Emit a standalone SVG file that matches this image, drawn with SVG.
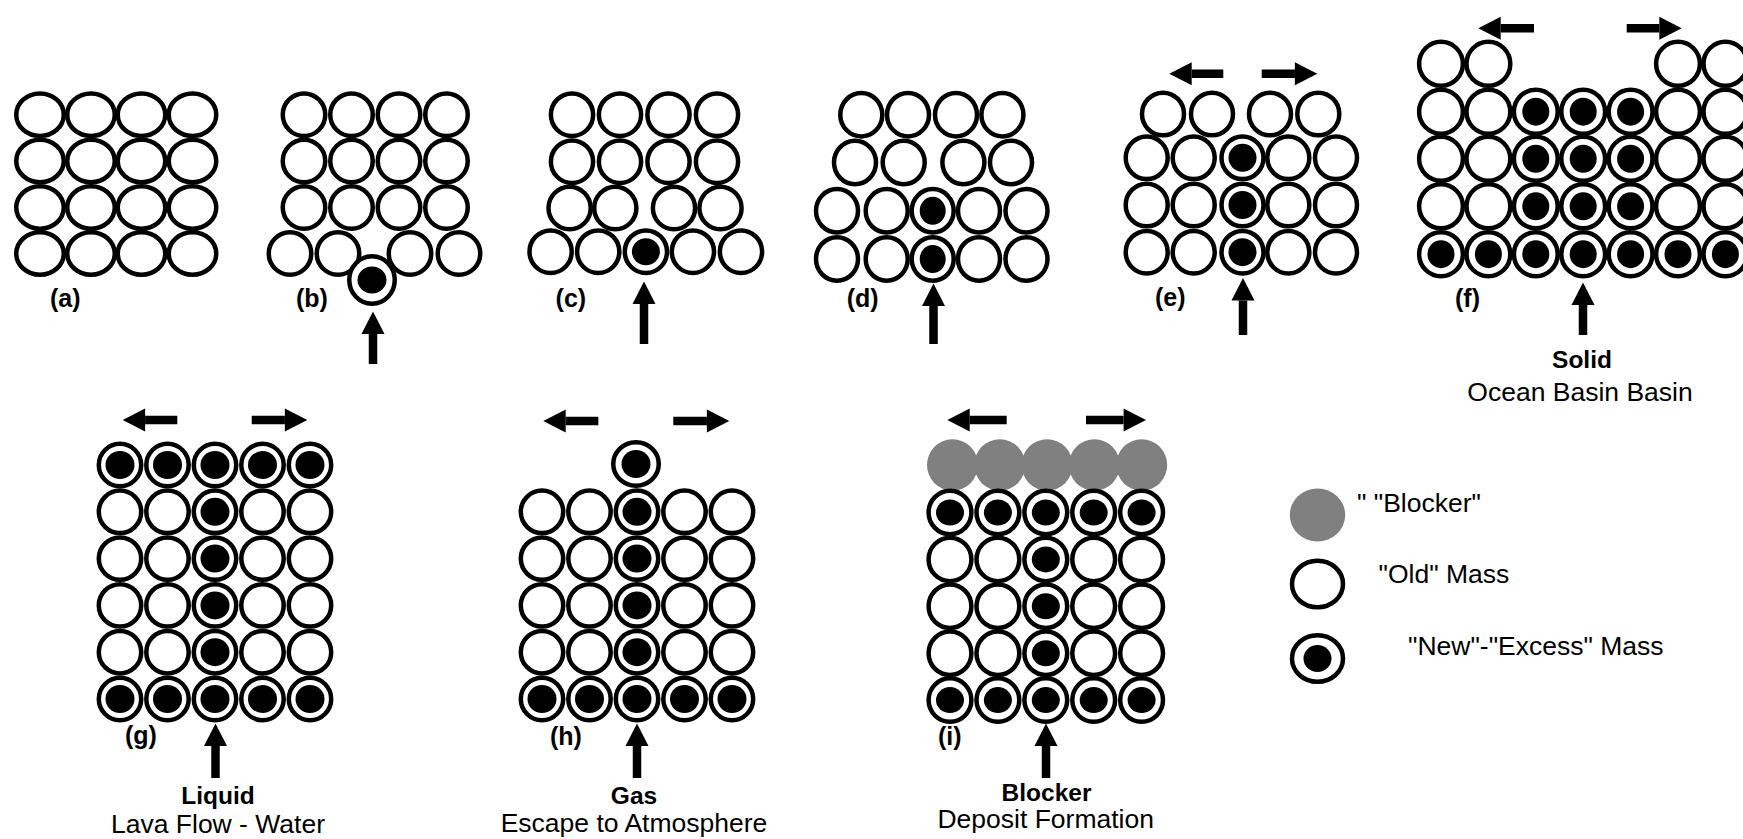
<svg xmlns="http://www.w3.org/2000/svg" width="1743" height="839" viewBox="0 0 1743 839">
<style>
.o{fill:#fff;stroke:#000;stroke-width:4.5}
.d{fill:#000}
.g{fill:#808080}
.lb{font-family:"Liberation Sans",Arial,sans-serif;font-size:25px;font-weight:bold;fill:#000}
.t{font-family:"Liberation Sans",Arial,sans-serif;font-size:26.5px;text-anchor:middle;fill:#000}
.b{font-family:"Liberation Sans",Arial,sans-serif;font-size:24.5px;font-weight:bold;text-anchor:middle;fill:#000}
.lg{font-family:"Liberation Sans",Arial,sans-serif;font-size:26.5px;fill:#000}
.ar{stroke:#000;stroke-width:8.5;fill:none;marker-end:url(#ah)}
</style>
<defs>
<marker id="ah" markerUnits="userSpaceOnUse" markerWidth="23" markerHeight="24" refX="0" refY="11.5" orient="auto" overflow="visible">
<path d="M0,0 L22.4,11.5 L0,23 Z" fill="#000"/>
</marker>
</defs>
<rect width="1743" height="839" fill="#fff"/>

<g id="panel-a">
<ellipse class="o" cx="40" cy="114.7" rx="23.75" ry="21.25"/><ellipse class="o" cx="91" cy="114.7" rx="23.75" ry="21.25"/><ellipse class="o" cx="141.5" cy="114.7" rx="23.75" ry="21.25"/><ellipse class="o" cx="192.5" cy="114.7" rx="23.75" ry="21.25"/>
<ellipse class="o" cx="40" cy="161" rx="23.75" ry="21.25"/><ellipse class="o" cx="91" cy="161" rx="23.75" ry="21.25"/><ellipse class="o" cx="141.5" cy="161" rx="23.75" ry="21.25"/><ellipse class="o" cx="192.5" cy="161" rx="23.75" ry="21.25"/>
<ellipse class="o" cx="40" cy="207.5" rx="23.75" ry="21.25"/><ellipse class="o" cx="91" cy="207.5" rx="23.75" ry="21.25"/><ellipse class="o" cx="141.5" cy="207.5" rx="23.75" ry="21.25"/><ellipse class="o" cx="192.5" cy="207.5" rx="23.75" ry="21.25"/>
<ellipse class="o" cx="40" cy="253.5" rx="23.75" ry="21.25"/><ellipse class="o" cx="91" cy="253.5" rx="23.75" ry="21.25"/><ellipse class="o" cx="141.5" cy="253.5" rx="23.75" ry="21.25"/><ellipse class="o" cx="192.5" cy="253.5" rx="23.75" ry="21.25"/>
<text class="lb" x="50" y="307">(a)</text>
</g>

<g id="panel-b">
<ellipse class="o" cx="304" cy="114.7" rx="21.25" ry="21.25"/><ellipse class="o" cx="351.5" cy="114.7" rx="21.25" ry="21.25"/><ellipse class="o" cx="399" cy="114.7" rx="21.25" ry="21.25"/><ellipse class="o" cx="446.5" cy="114.7" rx="21.25" ry="21.25"/>
<ellipse class="o" cx="304" cy="161" rx="21.25" ry="21.25"/><ellipse class="o" cx="351.5" cy="161" rx="21.25" ry="21.25"/><ellipse class="o" cx="399" cy="161" rx="21.25" ry="21.25"/><ellipse class="o" cx="446.5" cy="161" rx="21.25" ry="21.25"/>
<ellipse class="o" cx="304" cy="207.5" rx="21.25" ry="21.25"/><ellipse class="o" cx="351.5" cy="207.5" rx="21.25" ry="21.25"/><ellipse class="o" cx="399" cy="207.5" rx="21.25" ry="21.25"/><ellipse class="o" cx="446.5" cy="207.5" rx="21.25" ry="21.25"/>
<ellipse class="o" cx="290" cy="253.5" rx="21.25" ry="21.25"/><ellipse class="o" cx="338" cy="253.5" rx="21.25" ry="21.25"/><ellipse class="o" cx="410" cy="253.5" rx="21.25" ry="21.25"/><ellipse class="o" cx="459" cy="253.5" rx="21.25" ry="21.25"/>
<ellipse class="o" cx="372" cy="280" rx="22.75" ry="23.75"/><ellipse class="d" cx="372" cy="280" rx="14.5" ry="13.5"/>
<text class="lb" x="296" y="307">(b)</text>
</g>

<g id="panel-c">
<ellipse class="o" cx="572" cy="114.7" rx="21.1" ry="21.25"/><ellipse class="o" cx="620" cy="114.7" rx="21.1" ry="21.25"/><ellipse class="o" cx="668.5" cy="114.7" rx="21.1" ry="21.25"/><ellipse class="o" cx="717" cy="114.7" rx="21.1" ry="21.25"/>
<ellipse class="o" cx="572" cy="161.7" rx="21.1" ry="21.25"/><ellipse class="o" cx="620" cy="161.7" rx="21.1" ry="21.25"/><ellipse class="o" cx="668.5" cy="161.7" rx="21.1" ry="21.25"/><ellipse class="o" cx="717" cy="161.7" rx="21.1" ry="21.25"/>
<ellipse class="o" cx="569.6" cy="208" rx="21.1" ry="21.25"/><ellipse class="o" cx="615.3" cy="208" rx="21.1" ry="21.25"/><ellipse class="o" cx="674" cy="208" rx="21.1" ry="21.25"/><ellipse class="o" cx="720.5" cy="208" rx="21.1" ry="21.25"/>
<ellipse class="o" cx="550.6" cy="251.7" rx="21.1" ry="21.25"/><ellipse class="o" cx="598.2" cy="251.7" rx="21.1" ry="21.25"/><ellipse class="o" cx="645.9" cy="251.7" rx="21.1" ry="21.25"/><ellipse class="d" cx="645.9" cy="251.7" rx="14" ry="13.5"/><ellipse class="o" cx="692.9" cy="251.7" rx="21.1" ry="21.25"/><ellipse class="o" cx="741" cy="251.7" rx="21.1" ry="21.25"/>
<text class="lb" x="555.6" y="307">(c)</text>
</g>

<g id="panel-d">
<ellipse class="o" cx="861.3" cy="114.7" rx="21" ry="21.7"/><ellipse class="o" cx="908" cy="114.7" rx="21" ry="21.7"/><ellipse class="o" cx="956" cy="114.7" rx="21" ry="21.7"/><ellipse class="o" cx="1002.4" cy="114.7" rx="21" ry="21.7"/>
<ellipse class="o" cx="855" cy="162.5" rx="21" ry="21.7"/><ellipse class="o" cx="903.7" cy="162.5" rx="21" ry="21.7"/><ellipse class="o" cx="963.4" cy="162.5" rx="21" ry="21.7"/><ellipse class="o" cx="1011" cy="162.5" rx="21" ry="21.7"/>
<ellipse class="o" cx="837" cy="210.8" rx="21" ry="21.7"/><ellipse class="o" cx="886.7" cy="210.8" rx="21" ry="21.7"/><ellipse class="o" cx="932.7" cy="210.8" rx="21" ry="21.7"/><ellipse class="d" cx="932.7" cy="210.8" rx="13" ry="14"/><ellipse class="o" cx="979" cy="210.8" rx="21" ry="21.7"/><ellipse class="o" cx="1026.5" cy="210.8" rx="21" ry="21.7"/>
<ellipse class="o" cx="837" cy="259" rx="21" ry="21.7"/><ellipse class="o" cx="886.7" cy="259" rx="21" ry="21.7"/><ellipse class="o" cx="932.7" cy="259" rx="21" ry="21.7"/><ellipse class="d" cx="932.7" cy="259" rx="13" ry="14"/><ellipse class="o" cx="979" cy="259" rx="21" ry="21.7"/><ellipse class="o" cx="1026.5" cy="259" rx="21" ry="21.7"/>
<text class="lb" x="846.7" y="307">(d)</text>
</g>

<g id="panel-e">
<ellipse class="o" cx="1163" cy="114" rx="21" ry="21.3"/><ellipse class="o" cx="1212" cy="114" rx="21" ry="21.3"/><ellipse class="o" cx="1270" cy="114" rx="21" ry="21.3"/><ellipse class="o" cx="1318.3" cy="114" rx="21" ry="21.3"/>
<ellipse class="o" cx="1146.7" cy="157.8" rx="21" ry="21.3"/><ellipse class="o" cx="1193.7" cy="157.8" rx="21" ry="21.3"/><ellipse class="o" cx="1242.5" cy="157.8" rx="21" ry="21.3"/><ellipse class="d" cx="1242.5" cy="157.8" rx="14" ry="14"/><ellipse class="o" cx="1288.3" cy="157.8" rx="21" ry="21.3"/><ellipse class="o" cx="1336" cy="157.8" rx="21" ry="21.3"/>
<ellipse class="o" cx="1146.7" cy="205" rx="21" ry="21.3"/><ellipse class="o" cx="1193.7" cy="205" rx="21" ry="21.3"/><ellipse class="o" cx="1242.5" cy="205" rx="21" ry="21.3"/><ellipse class="d" cx="1242.5" cy="205" rx="14" ry="14"/><ellipse class="o" cx="1288.3" cy="205" rx="21" ry="21.3"/><ellipse class="o" cx="1336" cy="205" rx="21" ry="21.3"/>
<ellipse class="o" cx="1146.7" cy="252.2" rx="21" ry="21.3"/><ellipse class="o" cx="1193.7" cy="252.2" rx="21" ry="21.3"/><ellipse class="o" cx="1242.5" cy="252.2" rx="21" ry="21.3"/><ellipse class="d" cx="1242.5" cy="252.2" rx="14" ry="14"/><ellipse class="o" cx="1288.3" cy="252.2" rx="21" ry="21.3"/><ellipse class="o" cx="1336" cy="252.2" rx="21" ry="21.3"/>
<text class="lb" x="1155" y="306">(e)</text>
</g>

<g id="panel-f">
<ellipse class="o" cx="1441" cy="63.8" rx="21.9" ry="22"/><ellipse class="o" cx="1488.4" cy="63.8" rx="21.9" ry="22"/><ellipse class="o" cx="1678" cy="63.8" rx="21.9" ry="22"/><ellipse class="o" cx="1725.4" cy="63.8" rx="21.9" ry="22"/>
<ellipse class="o" cx="1441" cy="111.7" rx="21.9" ry="22"/><ellipse class="o" cx="1488.4" cy="111.7" rx="21.9" ry="22"/><ellipse class="o" cx="1535.8" cy="111.7" rx="21.9" ry="22"/><ellipse class="d" cx="1535.8" cy="111.7" rx="13.5" ry="14"/><ellipse class="o" cx="1583.2" cy="111.7" rx="21.9" ry="22"/><ellipse class="d" cx="1583.2" cy="111.7" rx="13.5" ry="14"/><ellipse class="o" cx="1630.6" cy="111.7" rx="21.9" ry="22"/><ellipse class="d" cx="1630.6" cy="111.7" rx="13.5" ry="14"/><ellipse class="o" cx="1678" cy="111.7" rx="21.9" ry="22"/><ellipse class="o" cx="1725.4" cy="111.7" rx="21.9" ry="22"/>
<ellipse class="o" cx="1441" cy="158.8" rx="21.9" ry="22"/><ellipse class="o" cx="1488.4" cy="158.8" rx="21.9" ry="22"/><ellipse class="o" cx="1535.8" cy="158.8" rx="21.9" ry="22"/><ellipse class="d" cx="1535.8" cy="158.8" rx="13.5" ry="14"/><ellipse class="o" cx="1583.2" cy="158.8" rx="21.9" ry="22"/><ellipse class="d" cx="1583.2" cy="158.8" rx="13.5" ry="14"/><ellipse class="o" cx="1630.6" cy="158.8" rx="21.9" ry="22"/><ellipse class="d" cx="1630.6" cy="158.8" rx="13.5" ry="14"/><ellipse class="o" cx="1678" cy="158.8" rx="21.9" ry="22"/><ellipse class="o" cx="1725.4" cy="158.8" rx="21.9" ry="22"/>
<ellipse class="o" cx="1441" cy="206.3" rx="21.9" ry="22"/><ellipse class="o" cx="1488.4" cy="206.3" rx="21.9" ry="22"/><ellipse class="o" cx="1535.8" cy="206.3" rx="21.9" ry="22"/><ellipse class="d" cx="1535.8" cy="206.3" rx="13.5" ry="14"/><ellipse class="o" cx="1583.2" cy="206.3" rx="21.9" ry="22"/><ellipse class="d" cx="1583.2" cy="206.3" rx="13.5" ry="14"/><ellipse class="o" cx="1630.6" cy="206.3" rx="21.9" ry="22"/><ellipse class="d" cx="1630.6" cy="206.3" rx="13.5" ry="14"/><ellipse class="o" cx="1678" cy="206.3" rx="21.9" ry="22"/><ellipse class="o" cx="1725.4" cy="206.3" rx="21.9" ry="22"/>
<ellipse class="o" cx="1441" cy="254.2" rx="21.9" ry="22"/><ellipse class="d" cx="1441" cy="254.2" rx="13.5" ry="14"/><ellipse class="o" cx="1488.4" cy="254.2" rx="21.9" ry="22"/><ellipse class="d" cx="1488.4" cy="254.2" rx="13.5" ry="14"/><ellipse class="o" cx="1535.8" cy="254.2" rx="21.9" ry="22"/><ellipse class="d" cx="1535.8" cy="254.2" rx="13.5" ry="14"/><ellipse class="o" cx="1583.2" cy="254.2" rx="21.9" ry="22"/><ellipse class="d" cx="1583.2" cy="254.2" rx="13.5" ry="14"/><ellipse class="o" cx="1630.6" cy="254.2" rx="21.9" ry="22"/><ellipse class="d" cx="1630.6" cy="254.2" rx="13.5" ry="14"/><ellipse class="o" cx="1678" cy="254.2" rx="21.9" ry="22"/><ellipse class="d" cx="1678" cy="254.2" rx="13.5" ry="14"/><ellipse class="o" cx="1725.4" cy="254.2" rx="21.9" ry="22"/><ellipse class="d" cx="1725.4" cy="254.2" rx="13.5" ry="14"/>
<text class="lb" x="1455" y="307">(f)</text>
<text class="b" x="1582" y="368">Solid</text>
<text class="t" x="1580" y="401">Ocean Basin Basin</text>
</g>

<g id="panel-g">
<ellipse class="o" cx="120" cy="465" rx="21.2" ry="21.2"/><ellipse class="d" cx="120" cy="465" rx="14.5" ry="14"/><ellipse class="o" cx="167.5" cy="465" rx="21.2" ry="21.2"/><ellipse class="d" cx="167.5" cy="465" rx="14.5" ry="14"/><ellipse class="o" cx="215" cy="465" rx="21.2" ry="21.2"/><ellipse class="d" cx="215" cy="465" rx="14.5" ry="14"/><ellipse class="o" cx="262.5" cy="465" rx="21.2" ry="21.2"/><ellipse class="d" cx="262.5" cy="465" rx="14.5" ry="14"/><ellipse class="o" cx="310" cy="465" rx="21.2" ry="21.2"/><ellipse class="d" cx="310" cy="465" rx="14.5" ry="14"/>
<ellipse class="o" cx="120" cy="511.8" rx="21.2" ry="21.2"/><ellipse class="o" cx="167.5" cy="511.8" rx="21.2" ry="21.2"/><ellipse class="o" cx="215" cy="511.8" rx="21.2" ry="21.2"/><ellipse class="d" cx="215" cy="511.8" rx="14.5" ry="14"/><ellipse class="o" cx="262.5" cy="511.8" rx="21.2" ry="21.2"/><ellipse class="o" cx="310" cy="511.8" rx="21.2" ry="21.2"/>
<ellipse class="o" cx="120" cy="558.6" rx="21.2" ry="21.2"/><ellipse class="o" cx="167.5" cy="558.6" rx="21.2" ry="21.2"/><ellipse class="o" cx="215" cy="558.6" rx="21.2" ry="21.2"/><ellipse class="d" cx="215" cy="558.6" rx="14.5" ry="14"/><ellipse class="o" cx="262.5" cy="558.6" rx="21.2" ry="21.2"/><ellipse class="o" cx="310" cy="558.6" rx="21.2" ry="21.2"/>
<ellipse class="o" cx="120" cy="605.4" rx="21.2" ry="21.2"/><ellipse class="o" cx="167.5" cy="605.4" rx="21.2" ry="21.2"/><ellipse class="o" cx="215" cy="605.4" rx="21.2" ry="21.2"/><ellipse class="d" cx="215" cy="605.4" rx="14.5" ry="14"/><ellipse class="o" cx="262.5" cy="605.4" rx="21.2" ry="21.2"/><ellipse class="o" cx="310" cy="605.4" rx="21.2" ry="21.2"/>
<ellipse class="o" cx="120" cy="652.2" rx="21.2" ry="21.2"/><ellipse class="o" cx="167.5" cy="652.2" rx="21.2" ry="21.2"/><ellipse class="o" cx="215" cy="652.2" rx="21.2" ry="21.2"/><ellipse class="d" cx="215" cy="652.2" rx="14.5" ry="14"/><ellipse class="o" cx="262.5" cy="652.2" rx="21.2" ry="21.2"/><ellipse class="o" cx="310" cy="652.2" rx="21.2" ry="21.2"/>
<ellipse class="o" cx="120" cy="699" rx="21.2" ry="21.2"/><ellipse class="d" cx="120" cy="699" rx="14.5" ry="14"/><ellipse class="o" cx="167.5" cy="699" rx="21.2" ry="21.2"/><ellipse class="d" cx="167.5" cy="699" rx="14.5" ry="14"/><ellipse class="o" cx="215" cy="699" rx="21.2" ry="21.2"/><ellipse class="d" cx="215" cy="699" rx="14.5" ry="14"/><ellipse class="o" cx="262.5" cy="699" rx="21.2" ry="21.2"/><ellipse class="d" cx="262.5" cy="699" rx="14.5" ry="14"/><ellipse class="o" cx="310" cy="699" rx="21.2" ry="21.2"/><ellipse class="d" cx="310" cy="699" rx="14.5" ry="14"/>
<text class="lb" x="125" y="744">(g)</text>
<text class="b" x="218" y="804">Liquid</text>
<text class="t" x="218" y="833">Lava Flow - Water</text>
</g>

<g id="panel-h">
<ellipse class="o" cx="636" cy="464" rx="22.75" ry="21.75"/><ellipse class="d" cx="636" cy="464" rx="14.5" ry="14"/>
<ellipse class="o" cx="542" cy="511.8" rx="21.2" ry="21.2"/><ellipse class="o" cx="589.5" cy="511.8" rx="21.2" ry="21.2"/><ellipse class="o" cx="637" cy="511.8" rx="21.2" ry="21.2"/><ellipse class="d" cx="637" cy="511.8" rx="14.5" ry="14"/><ellipse class="o" cx="684.5" cy="511.8" rx="21.2" ry="21.2"/><ellipse class="o" cx="732" cy="511.8" rx="21.2" ry="21.2"/>
<ellipse class="o" cx="542" cy="558.6" rx="21.2" ry="21.2"/><ellipse class="o" cx="589.5" cy="558.6" rx="21.2" ry="21.2"/><ellipse class="o" cx="637" cy="558.6" rx="21.2" ry="21.2"/><ellipse class="d" cx="637" cy="558.6" rx="14.5" ry="14"/><ellipse class="o" cx="684.5" cy="558.6" rx="21.2" ry="21.2"/><ellipse class="o" cx="732" cy="558.6" rx="21.2" ry="21.2"/>
<ellipse class="o" cx="542" cy="605.4" rx="21.2" ry="21.2"/><ellipse class="o" cx="589.5" cy="605.4" rx="21.2" ry="21.2"/><ellipse class="o" cx="637" cy="605.4" rx="21.2" ry="21.2"/><ellipse class="d" cx="637" cy="605.4" rx="14.5" ry="14"/><ellipse class="o" cx="684.5" cy="605.4" rx="21.2" ry="21.2"/><ellipse class="o" cx="732" cy="605.4" rx="21.2" ry="21.2"/>
<ellipse class="o" cx="542" cy="652.2" rx="21.2" ry="21.2"/><ellipse class="o" cx="589.5" cy="652.2" rx="21.2" ry="21.2"/><ellipse class="o" cx="637" cy="652.2" rx="21.2" ry="21.2"/><ellipse class="d" cx="637" cy="652.2" rx="14.5" ry="14"/><ellipse class="o" cx="684.5" cy="652.2" rx="21.2" ry="21.2"/><ellipse class="o" cx="732" cy="652.2" rx="21.2" ry="21.2"/>
<ellipse class="o" cx="542" cy="699" rx="21.2" ry="21.2"/><ellipse class="d" cx="542" cy="699" rx="14.5" ry="14"/><ellipse class="o" cx="589.5" cy="699" rx="21.2" ry="21.2"/><ellipse class="d" cx="589.5" cy="699" rx="14.5" ry="14"/><ellipse class="o" cx="637" cy="699" rx="21.2" ry="21.2"/><ellipse class="d" cx="637" cy="699" rx="14.5" ry="14"/><ellipse class="o" cx="684.5" cy="699" rx="21.2" ry="21.2"/><ellipse class="d" cx="684.5" cy="699" rx="14.5" ry="14"/><ellipse class="o" cx="732" cy="699" rx="21.2" ry="21.2"/><ellipse class="d" cx="732" cy="699" rx="14.5" ry="14"/>
<text class="lb" x="550" y="745">(h)</text>
<text class="b" x="634" y="804">Gas</text>
<text class="t" x="634" y="832">Escape to Atmosphere</text>
</g>

<g id="panel-i">
<ellipse class="g" cx="952.5" cy="465" rx="25.5" ry="25.7"/><ellipse class="g" cx="999.8" cy="465" rx="25.5" ry="25.7"/><ellipse class="g" cx="1047.1" cy="465" rx="25.5" ry="25.7"/><ellipse class="g" cx="1094.4" cy="465" rx="25.5" ry="25.7"/><ellipse class="g" cx="1141.7" cy="465" rx="25.5" ry="25.7"/>
<ellipse class="o" cx="950" cy="512.5" rx="21.4" ry="21.75"/><ellipse class="d" cx="950" cy="512.5" rx="14" ry="13"/><ellipse class="o" cx="997.9" cy="512.5" rx="21.4" ry="21.75"/><ellipse class="d" cx="997.9" cy="512.5" rx="14" ry="13"/><ellipse class="o" cx="1045.8" cy="512.5" rx="21.4" ry="21.75"/><ellipse class="d" cx="1045.8" cy="512.5" rx="14" ry="13"/><ellipse class="o" cx="1093.7" cy="512.5" rx="21.4" ry="21.75"/><ellipse class="d" cx="1093.7" cy="512.5" rx="14" ry="13"/><ellipse class="o" cx="1141.6" cy="512.5" rx="21.4" ry="21.75"/><ellipse class="d" cx="1141.6" cy="512.5" rx="14" ry="13"/>
<ellipse class="o" cx="950" cy="559.4" rx="21.4" ry="21.75"/><ellipse class="o" cx="997.9" cy="559.4" rx="21.4" ry="21.75"/><ellipse class="o" cx="1045.8" cy="559.4" rx="21.4" ry="21.75"/><ellipse class="d" cx="1045.8" cy="559.4" rx="14" ry="13"/><ellipse class="o" cx="1093.7" cy="559.4" rx="21.4" ry="21.75"/><ellipse class="o" cx="1141.6" cy="559.4" rx="21.4" ry="21.75"/>
<ellipse class="o" cx="950" cy="606.3" rx="21.4" ry="21.75"/><ellipse class="o" cx="997.9" cy="606.3" rx="21.4" ry="21.75"/><ellipse class="o" cx="1045.8" cy="606.3" rx="21.4" ry="21.75"/><ellipse class="d" cx="1045.8" cy="606.3" rx="14" ry="13"/><ellipse class="o" cx="1093.7" cy="606.3" rx="21.4" ry="21.75"/><ellipse class="o" cx="1141.6" cy="606.3" rx="21.4" ry="21.75"/>
<ellipse class="o" cx="950" cy="653.2" rx="21.4" ry="21.75"/><ellipse class="o" cx="997.9" cy="653.2" rx="21.4" ry="21.75"/><ellipse class="o" cx="1045.8" cy="653.2" rx="21.4" ry="21.75"/><ellipse class="d" cx="1045.8" cy="653.2" rx="14" ry="13"/><ellipse class="o" cx="1093.7" cy="653.2" rx="21.4" ry="21.75"/><ellipse class="o" cx="1141.6" cy="653.2" rx="21.4" ry="21.75"/>
<ellipse class="o" cx="950" cy="700.1" rx="21.4" ry="21.75"/><ellipse class="d" cx="950" cy="700.1" rx="14" ry="13"/><ellipse class="o" cx="997.9" cy="700.1" rx="21.4" ry="21.75"/><ellipse class="d" cx="997.9" cy="700.1" rx="14" ry="13"/><ellipse class="o" cx="1045.8" cy="700.1" rx="21.4" ry="21.75"/><ellipse class="d" cx="1045.8" cy="700.1" rx="14" ry="13"/><ellipse class="o" cx="1093.7" cy="700.1" rx="21.4" ry="21.75"/><ellipse class="d" cx="1093.7" cy="700.1" rx="14" ry="13"/><ellipse class="o" cx="1141.6" cy="700.1" rx="21.4" ry="21.75"/><ellipse class="d" cx="1141.6" cy="700.1" rx="14" ry="13"/>
<text class="lb" x="938" y="745">(i)</text>
<text class="b" x="1046.5" y="801">Blocker</text>
<text class="t" x="1045.7" y="828">Deposit Formation</text>
</g>

<g id="legend-blocker">
<ellipse class="g" cx="1317.5" cy="515" rx="27.7" ry="26.5"/>
<text class="lg" x="1357" y="512">" "Blocker"</text>
</g>
<g id="legend-old">
<ellipse class="o" cx="1317.5" cy="584" rx="25.5" ry="23.3"/>
<text class="lg" x="1378.5" y="583">"Old" Mass</text>
</g>
<g id="legend-new">
<ellipse class="o" cx="1317.5" cy="658.5" rx="25.5" ry="23.3"/><ellipse class="d" cx="1317.5" cy="658.5" rx="14" ry="13.5"/>
<text class="lg" x="1408" y="655">"New"-"Excess" Mass</text>
</g>

<g id="connectors">
<line class="ar" x1="373" y1="364" x2="373" y2="334"/>
<line class="ar" x1="644" y1="344" x2="644" y2="304"/>
<line class="ar" x1="933.5" y1="344" x2="933.5" y2="306"/>
<line class="ar" x1="1243" y1="335" x2="1243" y2="300.5"/>
<line class="ar" x1="1583" y1="335" x2="1583" y2="305"/>
<line class="ar" x1="215.5" y1="778" x2="215.5" y2="746"/>
<line class="ar" x1="637" y1="778" x2="637" y2="746"/>
<line class="ar" x1="1046" y1="778" x2="1046" y2="746"/>
<line class="ar" x1="1223.3" y1="73.8" x2="1191.7" y2="73.8"/>
<line class="ar" x1="1261.7" y1="73.8" x2="1294.9" y2="73.8"/>
<line class="ar" x1="1534" y1="28.3" x2="1500.7" y2="28.3"/>
<line class="ar" x1="1626.7" y1="28.3" x2="1659.3" y2="28.3"/>
<line class="ar" x1="177.3" y1="420" x2="145.1" y2="420"/>
<line class="ar" x1="251.7" y1="420" x2="284.9" y2="420"/>
<line class="ar" x1="598.3" y1="421" x2="565.7" y2="421"/>
<line class="ar" x1="673.3" y1="421" x2="706.9" y2="421"/>
<line class="ar" x1="1006.7" y1="420" x2="969.7" y2="420"/>
<line class="ar" x1="1086" y1="420" x2="1123.6" y2="420"/>
</g>
</svg>
